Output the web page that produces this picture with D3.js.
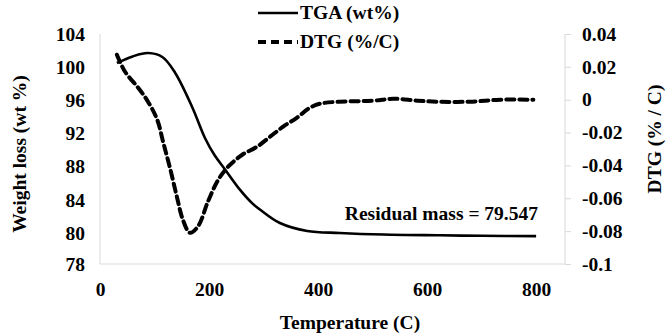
<!DOCTYPE html>
<meta charset="utf-8">
<style>
body { margin: 0; background: white; }
</style>
<body>
<div id="chart"></div>
<script src="https://d3js.org/d3.v7.min.js"></script>
<script>
// TGA / DTG curves
var temps_tga = [31, 60, 88, 115, 138, 169, 193, 210, 229, 257, 279, 294, 330, 380, 440, 520, 624, 700, 800];
var tga = [100.5, 101.3, 101.7, 101.2, 99.3, 95.2, 91.4, 89.4, 87.7, 85.2, 83.6, 82.8, 81.2, 80.24, 80.0, 79.9, 79.85, 79.82, 79.8];

var temps_dtg = [31, 46, 70, 88, 105, 116, 128, 141, 152, 165, 180, 198, 217, 235, 261, 288, 312, 336, 361, 385, 404, 440, 501, 538, 582, 618, 679, 734, 795];
var dtg = [0.0274, 0.017, 0.0073, -0.0012, -0.0122, -0.026, -0.041, -0.059, -0.073, -0.081, -0.077, -0.062, -0.0487, -0.0408, -0.0335, -0.0286, -0.0225, -0.0164, -0.011, -0.0049, -0.0024, -0.0012, -0.0006, 0.0006, -0.0006, -0.0012, -0.0012, 0, 0];

var xTicks = [0, 200, 400, 600, 800];
var leftTicks = [78, 80, 84, 88, 92, 96, 100, 104];
var rightTicks = [-0.1, -0.08, -0.06, -0.04, -0.02, 0, 0.02, 0.04];

var width = 667, height = 335;

var svg = d3.select("#chart").append("svg")
    .attr("width", width)
    .attr("height", height);

var x = d3.scaleLinear().domain([0, 853]).range([100, 565]);
// the left axis of the original is stretched below 80
var yL = d3.scaleLinear().domain([78, 80, 104]).range([264, 233, 34]);
var yR = d3.scaleLinear().domain([-0.1, 0.04]).range([264, 34]);

// axes
var gx = svg.append("g").attr("class", "axis")
    .attr("transform", "translate(0,264)")
    .call(d3.axisBottom(x).tickValues(xTicks).tickSize(0).tickPadding(18).tickFormat(d3.format("d")));
gx.select(".domain").attr("d", "M100,0H565");

svg.append("g").attr("class", "axis")
    .attr("transform", "translate(100,0)")
    .call(d3.axisLeft(yL).tickValues(leftTicks).tickSize(0).tickPadding(15))
    .select(".domain").attr("d", "M0,34V264");

svg.append("g").attr("class", "axis")
    .attr("transform", "translate(565,0)")
    .call(d3.axisRight(yR).tickValues(rightTicks).tickSize(6).tickPadding(11)
      .tickFormat(function(d) { return String(+d.toFixed(2)); }))
    .select(".domain").attr("d", "M0,34V264");

svg.selectAll(".axis path, .axis line").attr("stroke", "#d9d9d9");
svg.selectAll(".axis text").attr("fill", "black");
svg.selectAll(".axis").attr("font-family", null).attr("font-size", null);

// curves
var tgaData = temps_tga.map(function(t, i) { return [t, tga[i]]; });
var dtgData = temps_dtg.map(function(t, i) { return [t, dtg[i]]; });

svg.append("path")
    .datum(tgaData)
    .attr("fill", "none")
    .attr("stroke", "black")
    .attr("stroke-width", 2.6)
    .attr("d", d3.line().curve(d3.curveCatmullRom.alpha(0.5))
      .x(function(d) { return x(d[0]); })
      .y(function(d) { return yL(d[1]); }));

svg.append("path")
    .datum(dtgData)
    .attr("fill", "none")
    .attr("stroke", "black")
    .attr("stroke-width", 4)
    .attr("stroke-dasharray", "8,5")
    .attr("stroke-linecap", "round")
    .attr("d", d3.line().curve(d3.curveCatmullRom.alpha(0.5))
      .x(function(d) { return x(d[0]); })
      .y(function(d) { return yR(d[1]); }));

// legend
var legend = [
  {label: "TGA (wt%)", y: 13, w: 2.6, dash: null},
  {label: "DTG (%/C)", y: 42, w: 4, dash: "8,5"}
];
legend.forEach(function(l) {
  svg.append("line")
    .attr("x1", 258).attr("x2", 298)
    .attr("y1", l.y).attr("y2", l.y)
    .attr("stroke", "black")
    .attr("stroke-width", l.w)
    .attr("stroke-dasharray", l.dash);
  svg.append("text")
    .attr("x", 300).attr("y", l.y + 6)
    .text(l.label);
});

// annotation
svg.append("text")
    .attr("x", 538).attr("y", 220)
    .attr("text-anchor", "end")
    .text("Residual mass = 79.547");

// axis titles
svg.append("text")
    .attr("x", 350).attr("y", 329)
    .attr("text-anchor", "middle")
    .text("Temperature (C)");

svg.append("text")
    .attr("transform", "translate(26,154) rotate(-90)")
    .attr("text-anchor", "middle")
    .text("Weight loss (wt %)");

svg.append("text")
    .attr("transform", "translate(661,139) rotate(-90)")
    .attr("text-anchor", "middle")
    .text("DTG (% / C)");

// every text in bold Times-like type
svg.selectAll("text")
    .attr("font-family", "Liberation Serif")
    .attr("font-weight", "bold")
    .attr("font-size", 19.5);
</script>
</body>
